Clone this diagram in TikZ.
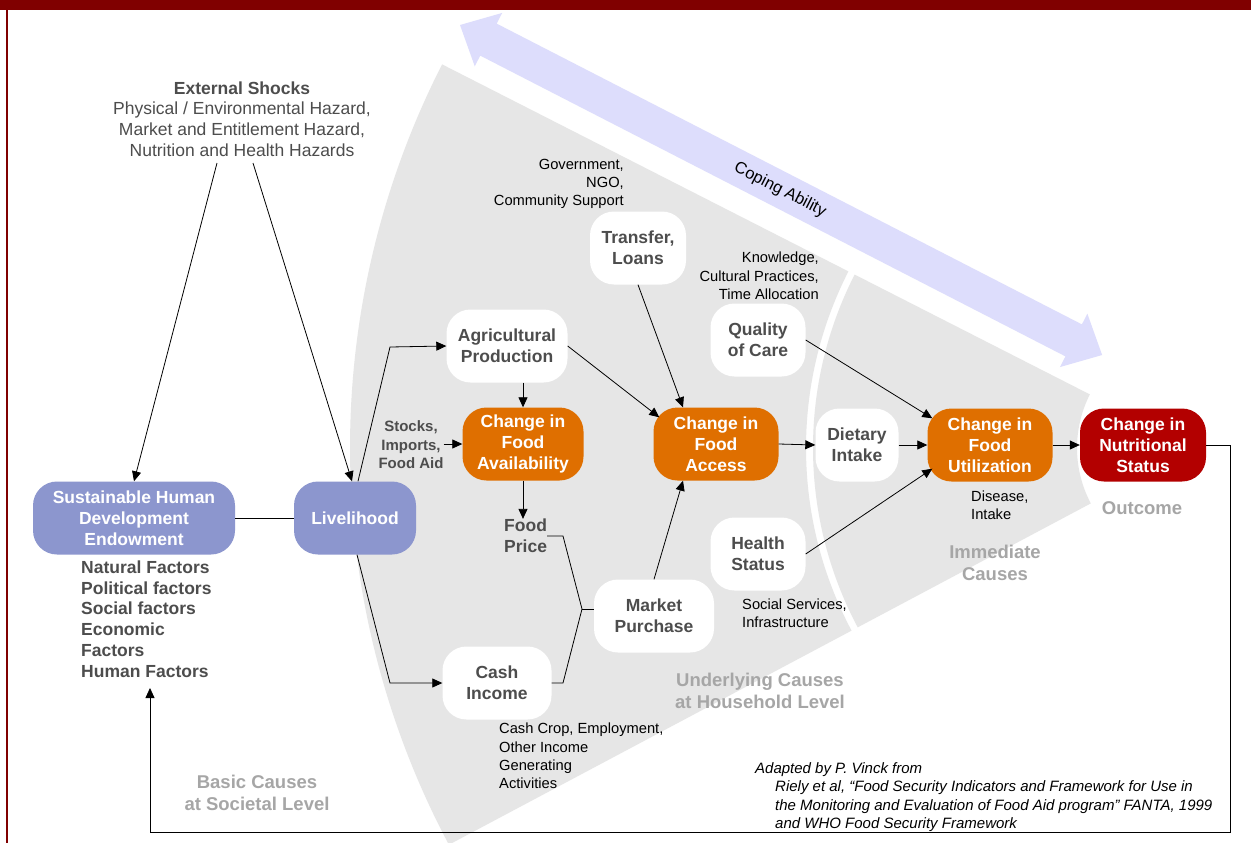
\documentclass[tikz,border=0pt]{standalone}
\usepackage{fontspec}
\setmainfont{Liberation Sans}
\usetikzlibrary{arrows.meta}

\definecolor{framered}{HTML}{800000}
\definecolor{endowblue}{HTML}{8C96CE}
\definecolor{changeorange}{HTML}{DF6F00}
\definecolor{nutrired}{HTML}{B30000}
\definecolor{bandgray}{HTML}{E6E6E6}
\definecolor{copingblue}{HTML}{DDDDFC}
\definecolor{nodetext}{HTML}{4D4D4D}
\definecolor{levelgray}{HTML}{A6A6A6}

\tikzset{
  box/.style={rounded corners=24pt, minimum height=73pt, align=center, inner sep=0pt,
    font=\fontsize{17.5}{21}\selectfont\bfseries},
  whitebox/.style={box, fill=white, text=nodetext},
  bluebox/.style={box, fill=endowblue, text=white},
  orangebox/.style={box, fill=changeorange, text=white, minimum width=123pt},
  redbox/.style={box, fill=nutrired, text=white, minimum width=126pt},
  note/.style={inner sep=0pt, font=\fontsize{14.7}{18.3}\selectfont},
  graynote/.style={inner sep=0pt, text=nodetext, font=\fontsize{17.5}{20.7}\selectfont},
  levelnote/.style={inner sep=0pt, text=levelgray, align=center,
    font=\fontsize{18.5}{22.5}\selectfont\bfseries},
  link/.style={line width=0.8pt},
  arr/.style={link, -{Triangle[length=10pt,width=9pt]}},
}

\begin{document}
\begin{tikzpicture}[x=1pt, y=-1pt]
\useasboundingbox (0,0) rectangle (1251,843);
\clip (0,0) rectangle (1251,843);
\fill[white] (0,0) rectangle (1251,843);

% cause bands
\coordinate (hub) at (1195,448);
\fill[bandgray] ([shift={(152:845)}]hub) arc[start angle=152, end angle=207, radius=845]
  -- ([shift={(207:389)}]hub) arc[start angle=207, end angle=152, radius=389] -- cycle;
\fill[bandgray] ([shift={(152:382)}]hub) arc[start angle=152, end angle=207, radius=382]
  -- ([shift={(207:118)}]hub) arc[start angle=207, end angle=152, radius=118] -- cycle;

% coping ability
\begin{scope}[shift={(460,25)}, rotate=-27.2]
  \fill[copingblue] (0,0) -- (32,30) -- (32,18) -- (690,18) -- (690,30) -- (722,0)
    -- (690,-30) -- (690,-18) -- (32,-18) -- (32,-30) -- cycle;
\end{scope}
\node[rotate=-27.2, inner sep=0pt, font=\fontsize{16.5}{20}\selectfont] (coping) at (780,190) {Coping Ability};

% boxes
\node[bluebox, minimum width=202pt] (sust) at (134,518) {Sustainable Human\\Development\\Endowment};
\node[bluebox, minimum width=122pt] (live) at (355,518) {Livelihood};
\node[whitebox, minimum width=121pt] (agri) at (507,346) {Agricultural\\Production};
\node[orangebox, minimum width=121pt] (avail) at (523,444) {Change in\\Food\\Availability};
\node[orangebox, minimum width=125pt] (access) at (716,444) {Change in\\Food\\Access};
\node[whitebox, minimum width=96pt] (transfer) at (638,248) {Transfer,\\Loans};
\node[whitebox, minimum width=95pt] (quality) at (758,340) {Quality\\of Care};
\node[whitebox, minimum width=83pt] (diet) at (857,445) {Dietary\\Intake};
\node[orangebox, minimum width=125pt] (util) at (990,445) {Change in\\Food\\Utilization};
\node[redbox] (nutri) at (1143,445) {Change in\\Nutritional\\Status};
\node[whitebox, minimum width=95pt] (health) at (758,554) {Health\\Status};
\node[whitebox, minimum width=120pt] (market) at (654,616) {Market\\Purchase};
\node[whitebox, minimum width=109pt] (cash) at (497,683) {Cash\\Income};

% texts
\node[graynote, align=center] (shocks) at (242,119)
  {\textbf{External Shocks}\\Physical / Environmental Hazard,\\Market and Entitlement Hazard,\\Nutrition and Health Hazards};
\node[graynote, align=left, anchor=west, font=\fontsize{17.5}{20.7}\selectfont\bfseries] (factors) at (81,619)
  {Natural Factors\\Political factors\\Social factors\\Economic\\Factors\\Human Factors};
\node[note, align=right, anchor=east] (gov) at (624,184) {Government,\\NGO,\\Community Support};
\node[note, align=right, anchor=east] (know) at (819,276) {Knowledge,\\Cultural Practices,\\Time Allocation};
\node[inner sep=0pt, text=nodetext, align=center, font=\fontsize{15}{18.5}\selectfont\bfseries] (stocks) at (411,445)
  {Stocks,\\Imports,\\Food Aid};
\node[graynote, align=left, anchor=west, font=\fontsize{17.5}{21}\selectfont\bfseries] (price) at (504,536) {Food\\Price};
\node[note, align=left, anchor=west] (social) at (742,613) {Social Services,\\Infrastructure};
\node[note, align=left, anchor=west] (disease) at (971,505) {Disease,\\Intake};
\node[note, align=left, anchor=west] (cashcrop) at (499,756)
  {Cash Crop, Employment,\\Other Income\\Generating\\Activities};
\node[levelnote] (outcome) at (1142,508) {Outcome};
\node[levelnote] (immediate) at (995,563) {Immediate\\Causes};
\node[levelnote] (underlying) at (760,691) {Underlying Causes\\at Household Level};
\node[levelnote] (basic) at (257,793) {Basic Causes\\at Societal Level};
\node[note, align=left, anchor=west, font=\fontsize{15}{18.3}\selectfont\itshape] (source) at (755,797)
  {Adapted by P. Vinck from\\
   \hspace*{20pt}Riely et al, “Food Security Indicators and Framework for Use in\\
   \hspace*{20pt}the Monitoring and Evaluation of Food Aid program” FANTA, 1999\\
   \hspace*{20pt}and WHO Food Security Framework};

% connectors
\coordinate (shockL) at (217,163);
\coordinate (shockR) at (253,163);
\coordinate (agriKnee) at (390,347);
\coordinate (cashKnee) at (390,683);
\coordinate (priceKnee) at (563,536);
\coordinate (join) at (582,609);
\coordinate (incomeKnee) at (563,683);
\coordinate (retR) at (1230,832);
\coordinate (retL) at (150,832);
\coordinate (factTip) at (150,688);

\draw[arr] (shockL) -- (sust.north);
\draw[arr] (shockR) -- ([xshift=-3pt]live.north);
\draw[link] (sust.east) -- (live.west);
\draw[arr] ([xshift=3pt]live.north) -- (agriKnee) -- (agri.west);
\draw[arr] ([xshift=2pt]live.south) -- (cashKnee) -- (cash.west);
\draw[arr] (agri.south -| avail.north) -- (avail.north);
\draw[arr] (stocks.east |- avail.west) -- (avail.west);
\draw[arr] (avail.south) -- (avail.south |- price.north);
\draw[link] (price.east) -- (priceKnee) -- (join) -- (incomeKnee) -- (cash.east);
\draw[link] (join) -- (join -| market.west);
\draw[arr] (market.north) -- ([xshift=-33pt]access.south);
\draw[arr] (agri.east) -- ([shift={(6,10)}]access.north west);
\draw[arr] (transfer.south) -- ([xshift=-33pt]access.north);
\draw[arr] (access.east) -- (diet.west);
\draw[arr] (diet.east) -- (util.west);
\draw[arr] (quality.east) -- ([shift={(5,10)}]util.north west);
\draw[arr] (health.east) -- ([shift={(5,-13)}]util.south west);
\draw[arr] (util.east) -- (nutri.west);
\draw[arr] (nutri.east) -| (retR) -- (retL) -- (factTip);

% frame
\fill[framered] (0,0) rectangle (1251,10);
\draw[framered, line width=2pt] (7,0) -- (7,843);
\end{tikzpicture}
\end{document}
